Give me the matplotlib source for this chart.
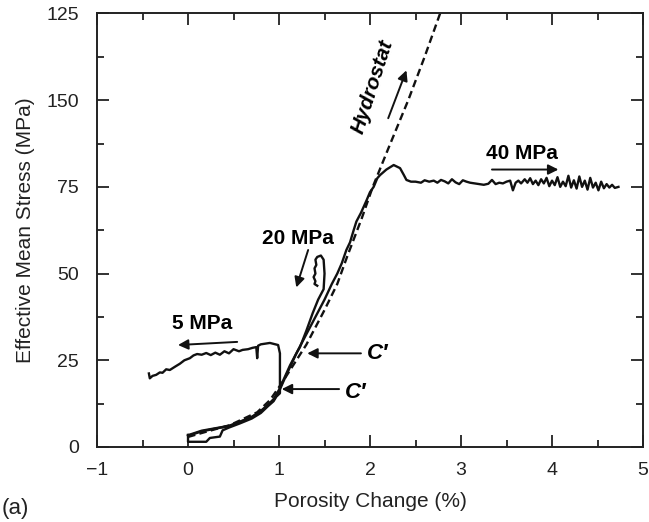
import matplotlib
matplotlib.use("Agg")
import matplotlib.pyplot as plt
from matplotlib.ticker import MultipleLocator

plt.rcParams['font.family'] = ['Liberation Sans', 'DejaVu Sans']

# hydrostatic loading (dashed)
hydro_x = [0.0, 0.2, 0.46, 0.76, 0.9, 1.03, 1.3, 1.5, 1.64, 1.75, 1.91, 2.03, 2.2, 2.42, 2.6, 2.77]
hydro_y = [2.9, 4.4, 6.3, 10.0, 13.5, 18.4, 29.5, 39.5, 47.0, 55.0, 66.0, 75.0, 86.0, 100.0, 112.5, 125.0]

# 40 MPa test: loading then plateau
p40_x = [0.0, 0.15, 0.3, 0.45, 0.57, 0.7, 0.79, 0.88, 0.94, 1.0, 1.05, 1.12, 1.2, 1.3,
         1.4, 1.5, 1.58, 1.64, 1.69, 1.74, 1.78, 1.82, 1.85, 1.9, 1.96, 2.0, 2.04, 2.08,
         2.11, 2.18, 2.26, 2.33, 2.37, 2.4, 2.45,
         2.5, 2.56, 2.6, 2.65, 2.7, 2.74, 2.78, 2.82, 2.86, 2.9, 2.94, 2.98, 3.02, 3.06,
         3.1, 3.15, 3.2, 3.25, 3.3, 3.34, 3.38, 3.42, 3.46, 3.5, 3.54, 3.57, 3.6, 3.63,
         3.66, 3.7, 3.73, 3.76, 3.79, 3.82, 3.85, 3.88, 3.91, 3.94, 3.97, 4.0, 4.03, 4.06,
         4.09, 4.12, 4.15, 4.18, 4.21, 4.24, 4.27, 4.3, 4.33, 4.36, 4.39, 4.42, 4.45, 4.48,
         4.51, 4.54, 4.57, 4.6, 4.63, 4.66, 4.69, 4.73]
p40_y = [3.2, 4.5, 5.3, 6.0, 7.2, 8.6, 10.0, 12.0, 13.5, 16.0, 19.0, 23.0, 27.5, 32.5,
         37.5, 42.5, 47.0, 50.0, 53.0, 56.8, 59.0, 62.5, 65.0, 67.5, 71.0, 73.5, 75.0, 77.5,
         78.4, 80.0, 81.3, 80.4, 78.5, 77.0, 76.5,
         76.5, 76.2, 76.9, 76.5, 76.8, 76.2, 77.0, 76.6, 76.0, 77.2, 76.3, 75.8, 76.9, 76.5,
         76.2, 76.0, 75.8, 75.6, 75.9, 77.0, 75.8, 76.2, 76.0, 76.5, 76.8, 74.0, 76.2, 76.8,
         76.0, 77.2, 76.2, 77.5, 75.8, 76.8, 75.5, 77.2, 76.0, 77.6, 75.2, 76.8, 75.5, 77.8,
         75.0, 76.5, 75.2, 78.2, 74.8, 76.9, 74.5, 78.0, 75.0, 76.8, 74.2, 77.6, 74.8, 76.2,
         74.0, 76.5, 74.6, 75.8, 74.8, 75.6, 74.7, 75.0]

# 20 MPa test: loading then small loop
p20_x = [0.0, 0.15, 0.3, 0.45, 0.57, 0.7, 0.79, 0.88, 0.94, 1.0, 1.06, 1.12, 1.18, 1.23,
         1.3, 1.37, 1.43, 1.49, 1.5, 1.49, 1.46, 1.42, 1.4, 1.41, 1.39, 1.4, 1.38, 1.4,
         1.39, 1.42]
p20_y = [3.4, 4.7, 5.4, 6.1, 7.3, 8.7, 10.2, 12.2, 13.8, 16.5, 20.0, 23.5, 26.5, 28.8,
         33.5, 38.6, 42.5, 45.5, 50.0, 54.0, 55.2, 54.8, 54.0, 52.5, 51.5, 50.0, 49.0, 47.8,
         47.0, 46.5]

# 5 MPa test: loading then unloading to the left
p5_x = [0.0, 0.0, 0.2, 0.24, 0.35, 0.38, 0.45, 0.57, 0.7, 0.8, 0.88, 0.94, 0.97, 1.01,
        1.01, 0.99, 0.9, 0.8, 0.77, 0.76, 0.75, 0.71, 0.66, 0.6, 0.56, 0.5, 0.45, 0.4,
        0.35, 0.3, 0.25, 0.2, 0.15, 0.1, 0.06, 0.02, -0.04, -0.09, -0.14, -0.2, -0.24,
        -0.28, -0.31, -0.35, -0.39, -0.42, -0.43]
p5_y = [3.5, 1.5, 1.5, 2.6, 3.0, 4.8, 5.6, 6.8, 8.2, 9.8, 11.8, 13.2, 14.5, 15.5,
        27.0, 29.4, 30.0, 29.6, 29.2, 25.6, 28.8, 28.6, 28.2, 28.0, 27.6, 28.2, 27.0, 27.6,
        26.6, 27.2, 26.5, 27.1, 26.6, 26.8, 26.4, 25.6, 25.0, 24.0, 23.2, 22.2, 22.4,
        21.4, 21.5, 20.8, 20.5, 19.8, 21.2]

x_ticks = [-1, 0, 1, 2, 3, 4, 5]
x_tick_labels = ['\u22121', '0', '1', '2', '3', '4', '5']
y_ticks = [0, 25, 50, 75, 100, 125]
y_tick_labels = ['0', '25', '50', '75', '150', '125']

fig = plt.figure(figsize=(6.49, 5.22), dpi=100)
ax = fig.add_axes([0.1495, 0.1437, 0.8413, 0.8305])

ax.plot(hydro_x, hydro_y, color='#111111', lw=1.7, ls=(0, (3.2, 1.8)))
ax.plot(p40_x, p40_y, color='#111111', lw=1.7)
ax.plot(p20_x, p20_y, color='#111111', lw=1.7)
ax.plot(p5_x, p5_y, color='#111111', lw=1.7)

ax.set_xlim(-1, 5)
ax.set_ylim(0, 125)
ax.set_xticks(x_ticks)
ax.set_xticklabels(x_tick_labels)
ax.set_yticks(y_ticks)
ax.set_yticklabels(y_tick_labels)
ax.xaxis.set_minor_locator(MultipleLocator(0.5))
ax.yaxis.set_minor_locator(MultipleLocator(12.5))
ax.tick_params(which='both', direction='in', top=True, right=True, width=1.3, color='#222222')
ax.tick_params(which='major', length=8.5, labelsize=14, colors='#222222')
ax.tick_params(axis='x', which='major', pad=11)
ax.tick_params(axis='y', which='major', pad=13)
ax.tick_params(which='minor', length=5)
for s in ax.spines.values():
    s.set_linewidth(1.4)
    s.set_color('#222222')

ax.set_xlabel('Porosity Change (%)', fontsize=15, color='#222222', labelpad=9)
ax.set_ylabel('Effective Mean Stress (MPa)', fontsize=15, color='#222222', labelpad=8)
fig.text(0.003, 0.015, '(a)', fontsize=16, color='#222222')

arrow = dict(arrowstyle='-|>', color='#111111', lw=1.4, mutation_scale=15, shrinkA=0, shrinkB=0)

# annotations
ax.text(0.15, 35.7, '5 MPa', fontsize=15, fontweight='bold', ha='center', va='center')
ax.annotate('', xy=(-0.11, 29.4), xytext=(0.54, 30.3), arrowprops=arrow)

ax.text(1.21, 60.0, '20 MPa', fontsize=15, fontweight='bold', ha='center', va='center')
ax.annotate('', xy=(1.19, 46.0), xytext=(1.32, 56.8), arrowprops=arrow)

ax.text(3.67, 84.7, '40 MPa', fontsize=15, fontweight='bold', ha='center', va='center')
ax.annotate('', xy=(4.07, 80.0), xytext=(3.34, 80.0), arrowprops=arrow)

ax.text(2.03, 104.0, 'Hydrostat', fontsize=15, fontweight='bold', fontstyle='italic',
        rotation=72, ha='center', va='center')
ax.annotate('', xy=(2.4, 108.6), xytext=(2.2, 94.8), arrowprops=arrow)

ax.text(2.08, 27.0, 'C\u2032', fontsize=16, fontweight='bold', fontstyle='italic',
        ha='center', va='center')
ax.annotate('', xy=(1.31, 27.0), xytext=(1.9, 27.0), arrowprops=arrow)

ax.text(1.84, 15.8, 'C\u2032', fontsize=16, fontweight='bold', fontstyle='italic',
        ha='center', va='center')
ax.annotate('', xy=(1.03, 16.7), xytext=(1.66, 16.7), arrowprops=arrow)

fig.savefig('out.png', dpi=100)
